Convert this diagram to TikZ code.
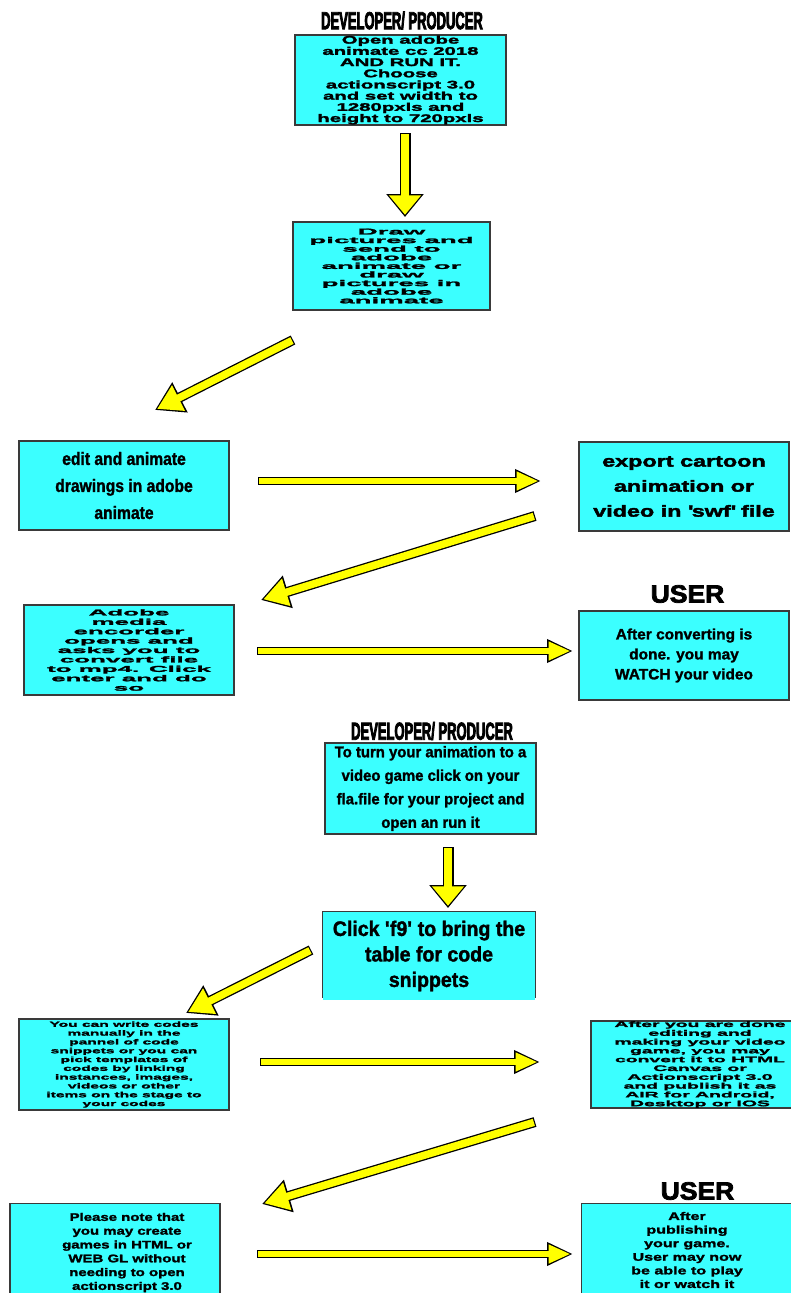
\documentclass[tikz,border=0pt]{standalone}
\usepackage{fontspec}
\setmainfont{Liberation Sans}
\usetikzlibrary{arrows.meta}

\definecolor{boxcyan}{HTML}{3BFFFF}
\definecolor{arrowyellow}{HTML}{FFFF00}
\definecolor{boxline}{HTML}{3A3A3A}

\tikzset{
  box/.style={draw=boxline, line width=1.2pt, fill=boxcyan, align=center, inner sep=0pt, text=black},
  txt/.style n args={4}{font=\bfseries\fontsize{#1}{#2}\selectfont\addfontfeatures{FakeStretch=#3,FakeBold=#4}, align=center, inner sep=0pt},
  vertarrow/.style={draw=black, line width=11pt, -{Triangle[width=36pt,length=23pt]},
    postaction={draw=arrowyellow, line width=8.4pt, shorten >=2.2pt, shorten <=1.2pt, -{Triangle[width=31pt,length=19.5pt]}}},
  diagarrow/.style={draw=black, line width=10pt, -{Triangle[width=32pt,length=28pt]},
    postaction={draw=arrowyellow, line width=7.4pt, shorten >=2.4pt, shorten <=1.2pt, -{Triangle[width=27pt,length=24pt]}}},
  horizarrow/.style={draw=black, line width=8pt, -{Triangle[width=22pt,length=26pt]},
    postaction={draw=arrowyellow, line width=5.6pt, shorten >=2.4pt, shorten <=1.2pt, -{Triangle[width=17.5pt,length=22pt]}}}
}

\begin{document}
\begin{tikzpicture}[x=1pt,y=-1pt]
\useasboundingbox[fill=white] (0,0) rectangle (791,1293);

% headings
\node[txt={24.5}{24.5}{0.53}{3}] (dev1) at (402,20.5) {DEVELOPER/ PRODUCER};
\node[txt={25}{25}{1.06}{3}] (user1) at (687.5,594) {USER};
\node[txt={24.5}{24.5}{0.53}{3}] (dev2) at (432,731) {DEVELOPER/ PRODUCER};
\node[txt={25}{25}{1.06}{3}] (user2) at (697.5,1191) {USER};

% first part
\node[box, minimum width=211pt, minimum height=90pt, txt={11}{11.2}{1.85}{2.5}] (b1) at (400.5,80)
  {Open adobe\\animate cc 2018\\AND RUN IT.\\Choose\\actionscript 3.0\\and set width to\\1280pxls and\\height to 720pxls};
\node[box, minimum width=197pt, minimum height=88pt, txt={8.5}{8.6}{3.25}{2.5}] (b2) at (391.5,266)
  {Draw\\pictures and\\send to\\adobe\\animate or\\draw\\pictures in\\adobe\\animate};
\node[box, minimum width=210pt, minimum height=89pt, txt={18}{27}{0.87}{1.5}] (b3) at (124,485.5)
  {edit and animate\\drawings in adobe\\animate};
\node[box, minimum width=210pt, minimum height=89pt, txt={16}{25}{1.46}{2.5}] (b4) at (684,486.5)
  {export cartoon\\animation or\\video in \textquotesingle swf\textquotesingle\ file};
\node[box, minimum width=210pt, minimum height=90pt, txt={8.5}{9.4}{3.05}{2.5}] (b5) at (129,650)
  {Adobe\\media\\encorder\\opens and\\asks you to\\convert file\\to mp4. Click\\enter and do\\so};
\node[box, minimum width=210pt, minimum height=89pt, txt={15}{20}{1.03}{1.5}] (b6) at (684,655.5)
  {After converting is\\done. you may\\WATCH your video};

% second part
\node[box, minimum width=211pt, minimum height=91pt, txt={15.5}{23.5}{0.96}{1.5}] (b7) at (430.5,788.5)
  {To turn your animation to a\\video game click on your\\fla.file for your project and\\open an run it};
\node[box, draw=none, minimum width=212pt, minimum height=88pt, txt={21}{25.5}{0.93}{1.5}] (b8) at (429,956)
  {Click \textquotesingle f9\textquotesingle\ to bring the\\table for code\\snippets};
\draw[boxline, line width=1.2pt] ([yshift=3pt]b8.south west) -- (b8.north west) -- (b8.north east) -- ([yshift=3pt]b8.south east);
\node[box, minimum width=210pt, minimum height=91pt, txt={7.5}{8.8}{2.07}{2}] (b9) at (124,1064.5)
  {You can write codes\\manually in the\\pannel of code\\snippets or you can\\pick templates of\\codes by linking\\instances, images,\\videos or other\\items on the stage to\\your codes};
\node[box, minimum width=228pt, minimum height=87pt] (b10) at (705,1064.5) {};
\node[txt={8}{8.8}{2.42}{2.5}] (b10text) at ([xshift=-5pt]b10.center)
  {After you are done\\editing and\\making your video\\game, you may\\convert it to HTML\\Canvas or\\Actionscript 3.0\\and publish it as\\AIR for Android,\\Desktop or IOS};
\node[box, minimum width=210pt, minimum height=93pt] (b11) at (115,1250) {};
\node[txt={11}{13.8}{1.36}{2}] (b11text) at ([xshift=12pt,yshift=-2.5pt]b11.center)
  {Please note that\\you may create\\games in HTML or\\WEB GL without\\needing to open\\actionscript 3.0};
\node[box, minimum width=211pt, minimum height=93pt, txt={11}{13.6}{1.46}{2}] (b12) at (687,1250)
  {After\\publishing\\your game.\\User may now\\be able to play\\it or watch it};

% arrow ends
\coordinate (a1s) at (405,133);  \coordinate (a1e) at (405,217);
\coordinate (a2s) at (293,340);  \coordinate (a2e) at (155,410);
\coordinate (a3s) at (258,481);  \coordinate (a3e) at (541,481);
\coordinate (a4s) at (535,516);  \coordinate (a4e) at (261,600);
\coordinate (a5s) at (257,651);  \coordinate (a5e) at (573,651);
\coordinate (a6s) at (448,847);  \coordinate (a6e) at (448,908);
\coordinate (a7s) at (311,950);  \coordinate (a7e) at (186,1013);
\coordinate (a8s) at (260,1062); \coordinate (a8e) at (540,1062);
\coordinate (a9s) at (535,1122); \coordinate (a9e) at (262,1204);
\coordinate (a10s) at (257,1254); \coordinate (a10e) at (573,1254);

\draw[vertarrow] (a1s) -- (a1e);
\draw[diagarrow] (a2s) -- (a2e);
\draw[horizarrow] (a3s) -- (a3e);
\draw[diagarrow] (a4s) -- (a4e);
\draw[horizarrow] (a5s) -- (a5e);
\draw[vertarrow] (a6s) -- (a6e);
\draw[diagarrow] (a7s) -- (a7e);
\draw[horizarrow] (a8s) -- (a8e);
\draw[diagarrow] (a9s) -- (a9e);
\draw[horizarrow] (a10s) -- (a10e);
\end{tikzpicture}
\end{document}
